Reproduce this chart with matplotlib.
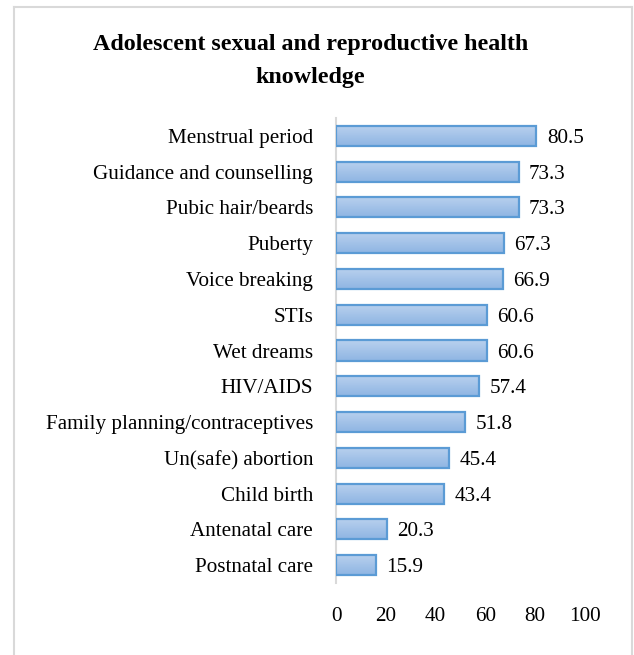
import numpy as np
import matplotlib.pyplot as plt
from matplotlib.lines import Line2D

topics = ["Menstrual period", "Guidance and counselling", "Pubic hair/beards", "Puberty",
          "Voice breaking", "STIs", "Wet dreams", "HIV/AIDS",
          "Family planning/contraceptives", "Un(safe) abortion", "Child birth",
          "Antenatal care", "Postnatal care"]
percent = [80.5, 73.3, 73.3, 67.3, 66.9, 60.6, 60.6, 57.4, 51.8, 45.4, 43.4, 20.3, 15.9]
xticks = [0, 20, 40, 60, 80, 100]

plt.rcParams['font.family'] = ['Liberation Serif', 'DejaVu Serif']
fs = 15.2

fig = plt.figure(figsize=(6.34, 6.55), dpi=100)
ax = fig.add_axes([336/634, 1 - 583/655, 249/634, 465/655])

ypos = np.arange(len(topics))
bars = ax.barh(ypos, percent, height=0.56, color='none', edgecolor='#5b9bd5', linewidth=1.6, zorder=3)

# light-to-darker vertical gradient inside each bar
grad = np.linspace(0, 1, 64).reshape(-1, 1)
cmap = plt.matplotlib.colors.LinearSegmentedColormap.from_list('b', ['#b9d1ee', '#8fb5e3'])
for b in bars:
    x0, y0 = b.get_x(), b.get_y()
    w, h = b.get_width(), b.get_height()
    im = ax.imshow(grad, cmap=cmap, aspect='auto', extent=[x0, x0 + w, y0 + h, y0], zorder=2)
    im.set_clip_path(b)
    ax.text(x0 + w + 4.2, y0 + h / 2, f"{w:.1f}", va='center_baseline', ha='left', fontsize=fs)

ax.set_xlim(0, 100)
ax.set_ylim(len(topics) - 0.5, -0.5)
ax.set_yticks(ypos)
ax.set_yticklabels(topics, fontsize=fs, va='center_baseline')
ax.set_xticks(xticks)
ax.set_xticklabels([str(t) for t in xticks], fontsize=fs)
ax.tick_params(length=0)
ax.tick_params(axis='x', pad=17)
ax.tick_params(axis='y', pad=16.5)
for s in ['top', 'right', 'bottom']:
    ax.spines[s].set_visible(False)
ax.spines['left'].set_color('#d9d9d9')
ax.spines['left'].set_linewidth(1.5)

fig.text(0.49, 1 - 61/655, "Adolescent sexual and reproductive health\nknowledge",
         ha='center', va='center', fontsize=17.3, fontweight='bold', linespacing=1.7)

# chart area border
bc = '#d9d9d9'
fig.add_artist(Line2D([14/634, 14/634], [0, 1 - 7/655], color=bc, lw=1.5))
fig.add_artist(Line2D([14/634, 632/634], [1 - 7/655, 1 - 7/655], color=bc, lw=1.5))
fig.add_artist(Line2D([632/634, 632/634], [0, 1 - 7/655], color=bc, lw=1.5))

fig.savefig("out.png", dpi=100)
